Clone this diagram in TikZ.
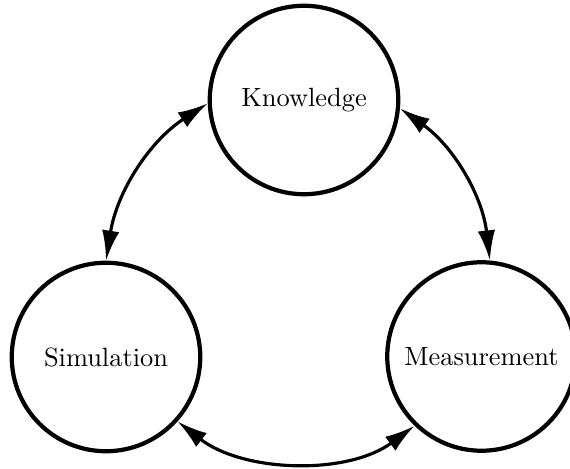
\documentclass[tikz,border=0pt]{standalone}
\usetikzlibrary{arrows.meta}
\begin{document}
\begin{tikzpicture}[x=0.3788pt,y=-0.3788pt,
  topic/.style={circle,draw,line width=1.6pt,minimum size=71.4pt,inner sep=0pt,font=\normalsize},
  link/.style={{Latex[length=11.4pt,width=6.6pt]}-{Latex[length=11.4pt,width=6.6pt]},line width=1.2pt}]
\useasboundingbox (0,0) rectangle (570,469);
\node[topic] (know) at (304,100) {Knowledge};
\node[topic] (sim) at (106,357) {Simulation};
\node[topic] (meas) at (481.5,356.5) {Measurement};
\draw[link] (sim.90) to[out=81,in=213,looseness=0.95] (know.182);
\draw[link] (know.-5) to[out=-35.4,in=96.6,looseness=0.95] (meas.85);
\draw[link] (sim.-42) to[out=-37.8,in=216.5,looseness=0.9] (meas.-134);
\end{tikzpicture}
\end{document}
